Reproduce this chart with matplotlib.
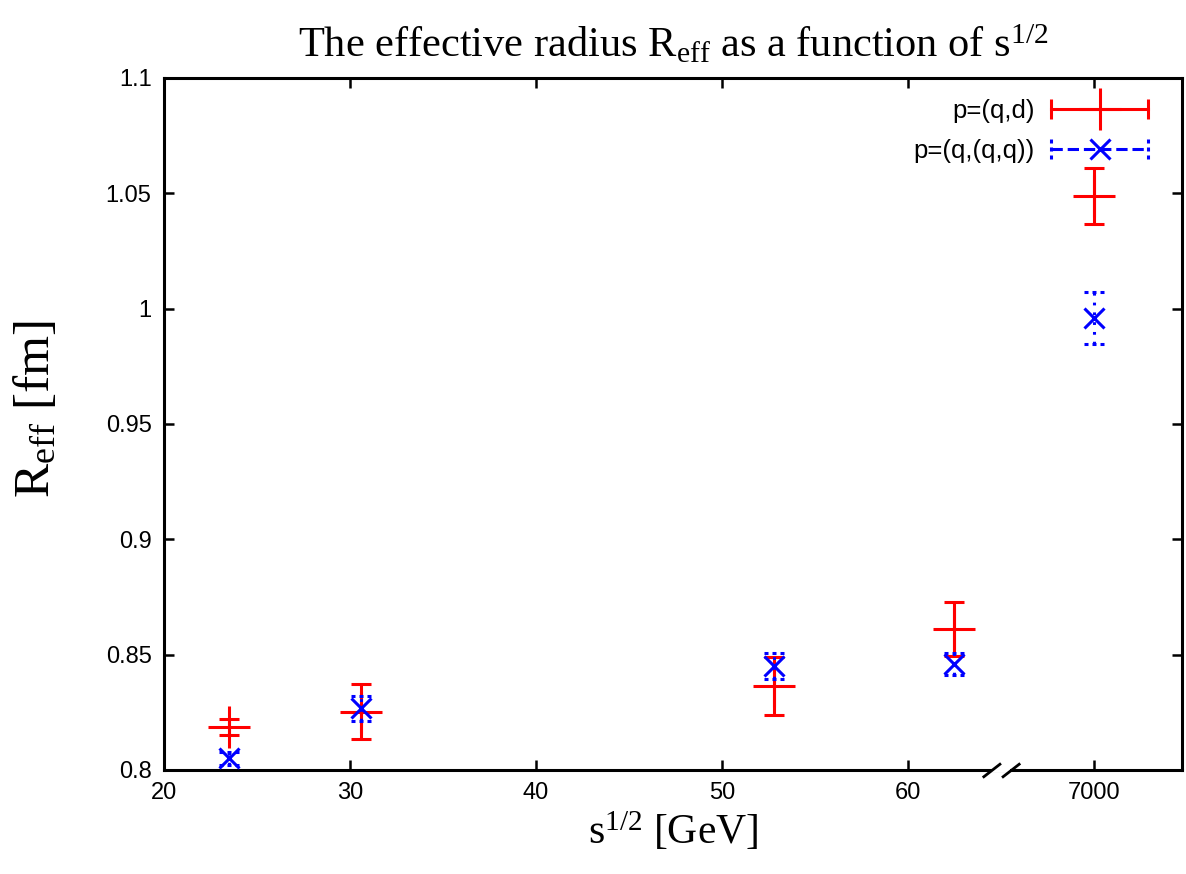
import matplotlib
matplotlib.use('Agg')
import matplotlib.pyplot as plt
import numpy as np
from matplotlib.path import Path
from matplotlib.lines import Line2D
from matplotlib.legend_handler import HandlerBase

# R_eff vs sqrt(s), broken x axis (gap between 65 and ~7000 GeV)

plt.rcParams['font.family'] = ['Liberation Sans', 'DejaVu Sans']
plt.rcParams['mathtext.fontset'] = 'custom'
plt.rcParams['mathtext.rm'] = 'Liberation Serif'
plt.rcParams['mathtext.it'] = 'Liberation Serif:italic'

sqrt_s = [23.5, 30.6, 52.8, 62.5, 7000]

reff_qd = [0.8186, 0.8253, 0.8363, 0.8611, 1.0488]
err_qd = [0.0036, 0.0119, 0.0125, 0.0117, 0.0121]

reff_qqq = [0.8051, 0.8267, 0.8451, 0.8460, 0.9958]
err_qqq = [0.0029, 0.0054, 0.0057, 0.0048, 0.0112]

xticks = [20, 30, 40, 50, 60, 7000]
xtick_labels = ['20', '30', '40', '50', '60', '7000']
yticks = [0.8, 0.85, 0.9, 0.95, 1.0, 1.05, 1.1]
ytick_labels = ['0.8', '0.85', '0.9', '0.95', '1', '1.05', '1.1']

label_qd = 'p=(q,d)'
label_qqq = 'p=(q,(q,q))'

# piecewise scale: linear up to 65, then the gap squeezed, 7000 sits at 70
xs_real = [-1000, 65, 6950, 8000]
xs_axis = [-1000, 65, 69.5, 80]


def fwd(x):
    return np.interp(x, xs_real, xs_axis)


def inv(x):
    return np.interp(x, xs_axis, xs_real)


# dotted cap markers for the blue series
dot_h = Path([(-1, 0), (-0.6, 0), (-0.2, 0), (0.2, 0), (0.6, 0), (1, 0)],
             [Path.MOVETO, Path.LINETO, Path.MOVETO, Path.LINETO, Path.MOVETO, Path.LINETO])
dot_v = Path([(0, -1), (0, -0.6), (0, -0.2), (0, 0.2), (0, 0.6), (0, 1)],
             [Path.MOVETO, Path.LINETO, Path.MOVETO, Path.LINETO, Path.MOVETO, Path.LINETO])

lw = 2.2
dotted = (0, (0.9, 2.3))


class HandlerHBar(HandlerBase):
    # gnuplot style key: horizontal bar with end caps and the point in the middle
    def create_artists(self, legend, orig_handle, xdescent, ydescent,
                       width, height, fontsize, trans):
        y = height / 2 - ydescent
        c = orig_handle.get_color()
        ls = orig_handle.get_linestyle()
        bar = Line2D([-xdescent, width - xdescent], [y, y], color=c, lw=lw,
                     linestyle=ls, transform=trans)
        if ls == '-':
            capm = '|'
        else:
            capm = dot_v
        caps = Line2D([-xdescent, width - xdescent], [y, y], color=c, lw=0,
                      marker=capm, markersize=15, markeredgewidth=lw,
                      linestyle='none', transform=trans)
        pt = Line2D([(width - 2 * xdescent) / 2], [y], color=c,
                    marker=orig_handle.get_marker(),
                    markersize=orig_handle.get_markersize(),
                    markeredgewidth=lw, linestyle='none', transform=trans)
        return [bar, caps, pt]


fig = plt.figure(figsize=(11.86, 8.74), dpi=100)
ax = fig.add_axes([0.1383, 0.119, 0.8583, 0.7918])
ax.set_xscale('function', functions=(fwd, inv))

ax.errorbar(sqrt_s, reff_qd, yerr=err_qd, fmt='+', color='#ff0000',
            markersize=30, markeredgewidth=lw, elinewidth=lw,
            capsize=7.5, capthick=lw, zorder=3)

eb = ax.errorbar(sqrt_s, reff_qqq, yerr=err_qqq, fmt='x', color='#0000ff',
                 markersize=15, markeredgewidth=lw, elinewidth=lw,
                 capsize=7.5, capthick=lw, zorder=4)
for cl in eb[1]:
    cl.set_marker(dot_h)
    cl.set_markersize(15)
for bl in eb[2]:
    bl.set_linestyle(dotted)

ax.set_xlim(20, 7475)
ax.set_ylim(0.8, 1.1)
ax.set_xticks(xticks)
ax.set_xticklabels(xtick_labels)
ax.set_yticks(yticks)
ax.set_yticklabels(ytick_labels)
ax.minorticks_off()
ax.tick_params(direction='in', length=7, width=1.8, labelsize=17,
               top=True, right=True, pad=9)
for sp in ax.spines.values():
    sp.set_linewidth(2.2)

# axis break marks
brk = Path([(-18.5, -7), (-0.5, 7), (0.5, -7), (18.5, 7)],
           [Path.MOVETO, Path.LINETO, Path.MOVETO, Path.LINETO])
xt = ax.get_xaxis_transform()
ax.plot([65], [0], transform=xt, marker='_', color='white', markersize=13,
        markeredgewidth=3, clip_on=False, zorder=5)
ax.plot([65], [0], transform=xt, marker=brk, color='black', markersize=27,
        markeredgewidth=2.0, clip_on=False, zorder=6)

ax.set_title(r'The effective radius R$_{\mathrm{eff}}$ as a function of s$^{1/2}$',
             fontsize=30.5, fontfamily='Liberation Serif', pad=15)
ax.set_xlabel(r's$^{1/2}$ [GeV]', fontsize=30, fontfamily='Liberation Serif',
              labelpad=4)
ax.set_ylabel(r'R$_{\mathrm{eff}}$ [fm]', fontsize=37, fontfamily='Liberation Serif')
ax.yaxis.set_label_coords(-0.102, 0.522)

h1 = Line2D([], [], color='#ff0000', linestyle='-', marker='+', markersize=30)
h2 = Line2D([], [], color='#0000ff', linestyle=dotted, marker='x', markersize=15)
ax.legend([h1, h2], [label_qd, label_qqq], handler_map={Line2D: HandlerHBar()},
          loc='upper right', bbox_to_anchor=(0.967, 0.972), frameon=False,
          markerfirst=False, fontsize=18.5, handlelength=3.8, handleheight=1.0,
          handletextpad=0.62, labelspacing=0.57, borderaxespad=0, borderpad=0)

fig.savefig('out.png', dpi=100)
